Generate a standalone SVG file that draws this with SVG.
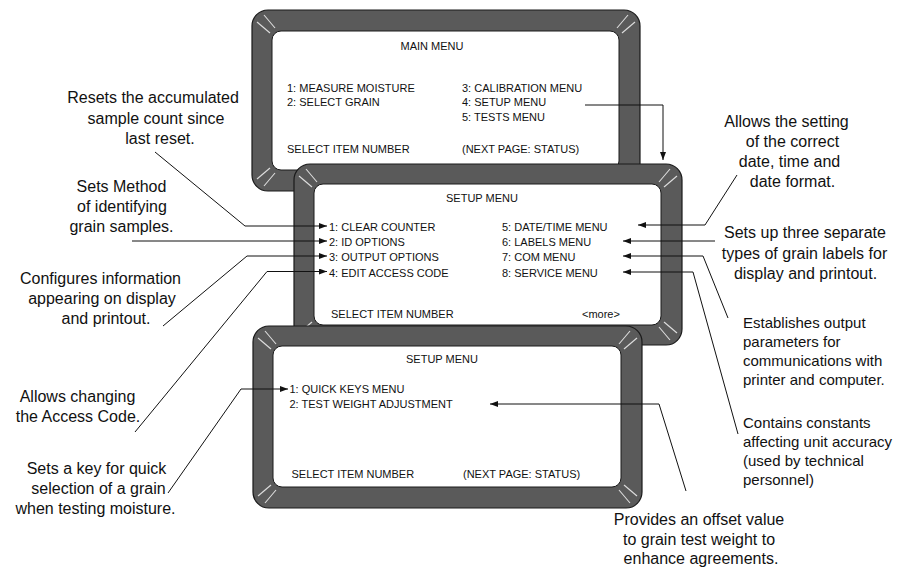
<svg xmlns="http://www.w3.org/2000/svg" xmlns:xlink="http://www.w3.org/1999/xlink" width="906" height="569" viewBox="0 0 906 569">
<style>
.frame{fill:#5a5a5a;stroke:#1a1a1a;stroke-width:1.2}
.scr{fill:#ffffff;stroke:#1a1a1a;stroke-width:1}
.bv line{stroke:#dedede;stroke-width:1.1}
.st{font-family:"Liberation Sans",Arial,sans-serif;font-size:11px;fill:#111}
.mid{text-anchor:middle}
.co{font-family:"Liberation Sans",Arial,sans-serif;font-size:16px;fill:#111}
.co15{font-family:"Liberation Sans",Arial,sans-serif;font-size:15px;fill:#111}
.conn path{fill:none;stroke:#111;stroke-width:1}
</style>
<defs>
<g id="bv" class="bv"><line x1="5" y1="12" x2="18" y2="23"/><line x1="12" y1="5" x2="23" y2="18"/></g>
<marker id="ah" markerWidth="8" markerHeight="6" refX="8" refY="3" orient="auto" markerUnits="userSpaceOnUse"><path d="M0,0 L8,3 L0,6 z" fill="#111"/></marker>
</defs>
<rect width="906" height="569" fill="#ffffff"/>

<g id="main-menu">
<rect class="frame" x="252" y="10" width="388" height="181" rx="16"/>
<rect class="scr" x="272" y="31" width="347" height="139" rx="9"/>
<use xlink:href="#bv" transform="translate(252,10)"/>
<use xlink:href="#bv" transform="translate(640,10) scale(-1,1)"/>
<use xlink:href="#bv" transform="translate(252,191) scale(1,-1)"/>
<use xlink:href="#bv" transform="translate(640,191) scale(-1,-1)"/>
<text class="st mid" x="432" y="50">MAIN MENU</text>
<text class="st" x="287" y="92">1: MEASURE MOISTURE</text>
<text class="st" x="287" y="106">2: SELECT GRAIN</text>
<text class="st" x="462" y="92">3: CALIBRATION MENU</text>
<text class="st" x="462" y="106">4: SETUP MENU</text>
<text class="st" x="462" y="120.5">5: TESTS MENU</text>
<text class="st" x="287" y="153">SELECT ITEM NUMBER</text>
<text class="st" x="462" y="153">(NEXT PAGE: STATUS)</text>
</g>

<g id="setup-menu-1">
<rect class="frame" x="294" y="164" width="388" height="181" rx="16"/>
<rect class="scr" x="314" y="184" width="347" height="141" rx="9"/>
<use xlink:href="#bv" transform="translate(294,164)"/>
<use xlink:href="#bv" transform="translate(682,164) scale(-1,1)"/>
<use xlink:href="#bv" transform="translate(294,345) scale(1,-1)"/>
<use xlink:href="#bv" transform="translate(682,345) scale(-1,-1)"/>
<text class="st mid" x="482" y="202">SETUP MENU</text>
<text class="st" x="329" y="231">1: CLEAR COUNTER</text>
<text class="st" x="329" y="246">2: ID OPTIONS</text>
<text class="st" x="329" y="261">3: OUTPUT OPTIONS</text>
<text class="st" x="329" y="276.5">4: EDIT ACCESS CODE</text>
<text class="st" x="502" y="231">5: DATE/TIME MENU</text>
<text class="st" x="502" y="246">6: LABELS MENU</text>
<text class="st" x="502" y="261">7: COM MENU</text>
<text class="st" x="502" y="276.5">8: SERVICE MENU</text>
<text class="st" x="331" y="317.5">SELECT ITEM NUMBER</text>
<text class="st" x="582" y="317.5">&lt;more&gt;</text>
</g>

<g id="setup-menu-2">
<rect class="frame" x="253" y="326" width="389" height="182" rx="16"/>
<rect class="scr" x="273" y="346" width="348" height="141" rx="9"/>
<use xlink:href="#bv" transform="translate(253,326)"/>
<use xlink:href="#bv" transform="translate(642,326) scale(-1,1)"/>
<use xlink:href="#bv" transform="translate(253,508) scale(1,-1)"/>
<use xlink:href="#bv" transform="translate(642,508) scale(-1,-1)"/>
<text class="st mid" x="442" y="363">SETUP MENU</text>
<text class="st" x="289.5" y="393">1: QUICK KEYS MENU</text>
<text class="st" x="289.5" y="407.5">2: TEST WEIGHT ADJUSTMENT</text>
<text class="st" x="291.5" y="478">SELECT ITEM NUMBER</text>
<text class="st" x="463" y="478">(NEXT PAGE: STATUS)</text>
</g>

<g id="connectors" class="conn">
<path d="M585,105 H663 V160" marker-end="url(#ah)"/>
<path d="M155,152 L245,226 H327" marker-end="url(#ah)"/>
<path d="M132,241 H327" marker-end="url(#ah)"/>
<path d="M163,326 L247,256 H327" marker-end="url(#ah)"/>
<path d="M135,432 L267,271.5 H327" marker-end="url(#ah)"/>
<path d="M168,493 L241,389 H288" marker-end="url(#ah)"/>
<path d="M737,175 L705,225 H638" marker-end="url(#ah)"/>
<path d="M715,241 H623" marker-end="url(#ah)"/>
<path d="M728,318 L703,256 H623" marker-end="url(#ah)"/>
<path d="M738,434 L693,272 H623" marker-end="url(#ah)"/>
<path d="M686,491 L659,404 H490" marker-end="url(#ah)"/>
</g>

<g id="note-clear-counter">
<text class="co mid" x="153" y="103">Resets the accumulated</text>
<text class="co mid" x="156" y="123.5">sample count since</text>
<text class="co mid" x="160" y="144">last reset.</text>
</g>
<g id="note-id-options">
<text class="co mid" x="121.5" y="192">Sets Method</text>
<text class="co mid" x="122" y="212">of identifying</text>
<text class="co mid" x="121.5" y="232">grain samples.</text>
</g>
<g id="note-output-options">
<text class="co mid" x="100.5" y="284">Configures information</text>
<text class="co mid" x="102" y="304">appearing on display</text>
<text class="co mid" x="106" y="324">and printout.</text>
</g>
<g id="note-access-code">
<text class="co mid" x="77.5" y="402">Allows changing</text>
<text class="co mid" x="78" y="422">the Access Code.</text>
</g>
<g id="note-quick-keys">
<text class="co mid" x="96.5" y="474">Sets a key for quick</text>
<text class="co mid" x="98.5" y="494">selection of a grain</text>
<text class="co mid" x="95.5" y="514">when testing moisture.</text>
</g>
<g id="note-date-time">
<text class="co mid" x="786.5" y="127">Allows the setting</text>
<text class="co mid" x="792.5" y="147">of the correct</text>
<text class="co mid" x="789.5" y="167">date, time and</text>
<text class="co mid" x="792.5" y="187">date format.</text>
</g>
<g id="note-labels">
<text class="co mid" x="805" y="238">Sets up three separate</text>
<text class="co mid" x="804.5" y="258.5">types of grain labels for</text>
<text class="co mid" x="805.5" y="279">display and printout.</text>
</g>
<g id="note-com">
<text class="co15" x="743" y="327.5">Establishes output</text>
<text class="co15" x="743" y="346.5">parameters for</text>
<text class="co15" x="743" y="365.5">communications with</text>
<text class="co15" x="743" y="384.5">printer and computer.</text>
</g>
<g id="note-service">
<text class="co15" x="743" y="428">Contains constants</text>
<text class="co15" x="743" y="447">affecting unit accuracy</text>
<text class="co15" x="743" y="466">(used by technical</text>
<text class="co15" x="743" y="485">personnel)</text>
</g>
<g id="note-test-weight">
<text class="co mid" x="699" y="525">Provides an offset value</text>
<text class="co mid" x="699" y="544.5">to grain test weight to</text>
<text class="co mid" x="701" y="563.5">enhance agreements.</text>
</g>
</svg>
